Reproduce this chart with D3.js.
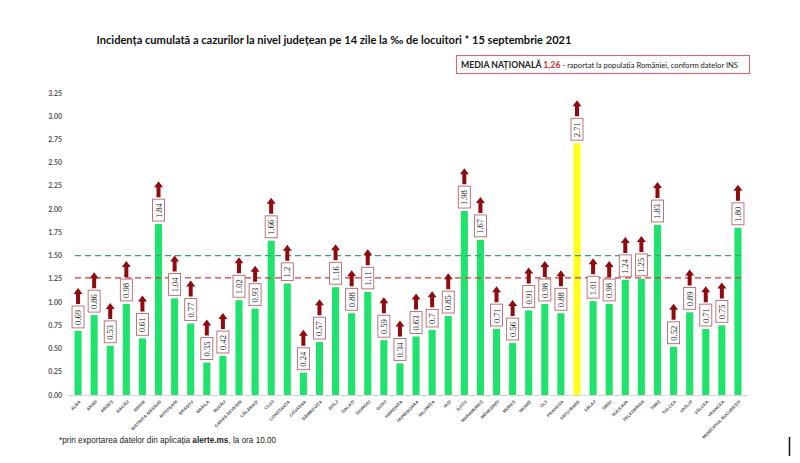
<!DOCTYPE html>
<html>
<head>
<meta charset="utf-8">
<script src="https://cdn.jsdelivr.net/npm/d3@7"></script>
<style>
  body { margin: 0; background: #fff; }
  svg { display: block; }
</style>
</head>
<body>
<svg id="chart" width="800" height="463"></svg>
<script>
// Judete, in ordinea din grafic
const counties = ["ALBA", "ARAD", "ARGEȘ", "BACĂU", "BIHOR", "BISTRIȚA-NĂSĂUD", "BOTOȘANI",
  "BRAȘOV", "BRĂILA", "BUZĂU", "CARAȘ-SEVERIN", "CĂLĂRAȘI", "CLUJ", "CONSTANȚA", "COVASNA",
  "DÂMBOVIȚA", "DOLJ", "GALAȚI", "GIURGIU", "GORJ", "HARGHITA", "HUNEDOARA", "IALOMIȚA", "IAȘI",
  "ILFOV", "MARAMUREȘ", "MEHEDINȚI", "MUREȘ", "NEAMȚ", "OLT", "PRAHOVA", "SATU MARE", "SĂLAJ",
  "SIBIU", "SUCEAVA", "TELEORMAN", "TIMIȘ", "TULCEA", "VASLUI", "VÂLCEA", "VRANCEA",
  "MUNICIPIUL BUCUREȘTI"];

const values = [0.69, 0.86, 0.53, 0.98, 0.61, 1.84, 1.04, 0.77, 0.35, 0.42, 1.02, 0.93, 1.66,
  1.2, 0.24, 0.57, 1.16, 0.88, 1.11, 0.59, 0.34, 0.63, 0.7, 0.85, 1.98, 1.67, 0.71, 0.56, 0.91,
  0.98, 0.88, 2.71, 1.01, 0.98, 1.24, 1.25, 1.83, 0.52, 0.89, 0.71, 0.75, 1.80];

// etichetele asa cum apar in grafic
const valueLabels = ["0.69", "0.86", "0.53", "0.98", "0.61", "1.84", "1.04", "0.77", "0.35",
  "0.42", "1.02", "0.93", "1.66", "1.2", "0.24", "0.57", "1.16", "0.88", "1.11", "0.59", "0.34",
  "0.63", "0.7", "0.85", "1.98", "1.67", "0.71", "0.56", "0.91", "0.98", "0.88", "2.71", "1.01",
  "0.98", "1.24", "1.25", "1.83", "0.52", "0.89", "0.71", "0.75", "1.80"];

const yTicks = [0, 0.25, 0.5, 0.75, 1, 1.25, 1.5, 1.75, 2, 2.25, 2.5, 2.75, 3, 3.25];
const nationalAvg = 1.26;
const upperLine = 1.5;
const highlight = "SATU MARE";

const svg = d3.select("#chart");

const x = d3.scaleBand().domain(counties).range([70, 746]).paddingInner(0.56).paddingOuter(0.28);
const y = d3.scaleLinear().domain([0, 3.25]).range([395, 93]);

// titlu
svg.append("text")
  .attr("x", 334).attr("y", 44)
  .attr("text-anchor", "middle")
  .style("font-family", "Lato, 'Open Sans', sans-serif")
  .style("font-weight", "bold")
  .style("font-size", "11.1px")
  .style("fill", "#111")
  .text("Incidența cumulată a cazurilor la nivel județean pe 14 zile la ‰ de locuitori * 15 septembrie 2021");

// caseta media nationala
const box = svg.append("g");
box.append("rect")
  .attr("x", 456.5).attr("y", 55.5).attr("width", 293).attr("height", 18)
  .attr("fill", "#fff").attr("stroke", "#c4707c").attr("stroke-width", 1.2);
const boxText = box.append("text")
  .attr("x", 461).attr("y", 68)
  .style("font-family", "Lato, 'Open Sans', sans-serif")
  .style("font-size", "7.6px").style("fill", "#222");
boxText.append("tspan").style("font-weight", "bold").style("font-size", "8.7px").text("MEDIA NAȚIONALĂ ");
boxText.append("tspan").style("font-weight", "bold").style("font-size", "8.7px").style("fill", "#d42a2a")
  .text(d3.format(".2f")(nationalAvg).replace(".", ","));
boxText.append("tspan").text(" - raportat la populația României, conform datelor INS");

// axa y
svg.append("g")
  .selectAll("text")
  .data(yTicks)
  .join("text")
  .attr("x", 62).attr("y", d => y(d) + 2.5)
  .attr("text-anchor", "end")
  .style("font-family", "Lato, 'Open Sans', sans-serif")
  .style("font-weight", "bold")
  .style("font-size", "7px")
  .style("fill", "#555")
  .text(d3.format(".2f"));

// linia de baza
svg.append("line")
  .attr("x1", 68).attr("x2", 748)
  .attr("y1", y(0) + 0.5).attr("y2", y(0) + 0.5)
  .attr("stroke", "#d9d9d9").attr("stroke-width", 1);

// bare
svg.append("g")
  .selectAll("rect")
  .data(counties)
  .join("rect")
  .attr("x", d => x(d))
  .attr("width", x.bandwidth())
  .attr("y", (d, i) => y(values[i]))
  .attr("height", (d, i) => y(0) - y(values[i]))
  .attr("fill", d => d === highlight ? "#ffff1a" : "#1fe36c");

// linii de referinta
[[upperLine, "#3c9c7c"], [nationalAvg, "#d23a3a"]].forEach(([v, c]) => {
  svg.append("line")
    .attr("x1", 75).attr("x2", 745)
    .attr("y1", y(v)).attr("y2", y(v))
    .attr("stroke", c).attr("stroke-width", 1.2)
    .attr("stroke-dasharray", "6,4");
});

// etichete de valoare + sageti
const labels = svg.append("g");
counties.forEach((c, i) => {
  const cx = x(c) + x.bandwidth() / 2;
  const top = y(values[i]) - 3;
  const g = labels.append("g");
  const t = g.append("text")
    .attr("transform", `translate(${cx + 3},${top - 3}) rotate(-90)`)
    .style("font-family", "'Liberation Serif', 'DejaVu Serif', serif")
    .style("font-size", "8.5px")
    .style("fill", "#222")
    .text(valueLabels[i]);
  const len = t.node().getComputedTextLength();
  const h = len + 7;
  g.insert("rect", "text")
    .attr("x", cx - 6).attr("y", top - h)
    .attr("width", 12).attr("height", h)
    .attr("fill", "#fff").attr("stroke", "#b5666e").attr("stroke-width", 0.9);
  const ab = top - h - 2;
  // sageata
  g.append("path")
    .attr("d", `M${cx - 2},${ab} V${ab - 10} H${cx - 4.5} L${cx},${ab - 16} L${cx + 4.5},${ab - 10} H${cx + 2} V${ab} Z`)
    .attr("fill", "#8e0b10");
});

// etichete axa x
svg.append("g")
  .selectAll("text")
  .data(counties)
  .join("text")
  .attr("transform", d => `translate(${x(d) + x.bandwidth() / 2 + 3},${402}) rotate(-45)`)
  .attr("text-anchor", "end")
  .style("font-family", "'Liberation Sans', Arial, sans-serif")
  .style("font-weight", "bold")
  .style("font-size", "4.4px")
  .style("fill", "#555")
  .text(d => d);

// nota de subsol
const note = svg.append("text")
  .attr("x", 59).attr("y", 443)
  .style("font-family", "'Liberation Sans', Arial, sans-serif")
  .style("font-size", "8.2px")
  .style("fill", "#222");
note.append("tspan").text("*prin exportarea datelor din aplicația ");
note.append("tspan").style("font-weight", "bold").text("alerte.ms");
note.append("tspan").text(", la ora 10.00");

svg.append("line")
  .attr("x1", 789.5).attr("x2", 789.5).attr("y1", 437).attr("y2", 456)
  .attr("stroke", "#111").attr("stroke-width", 1.5);
</script>
</body>
</html>
